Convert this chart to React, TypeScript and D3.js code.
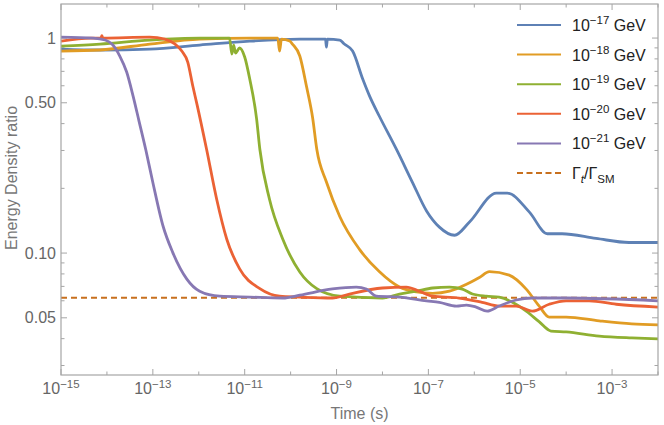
import * as d3 from "d3";

// log10(time / s), energy density ratio
const gev17: [number, number][] = [
  [-15, 0.889], [-14.15, 0.88], [-13.07, 0.889], [-11.98, 0.928], [-10.89, 0.968],
  [-9.8, 0.989], [-9.24, 0.989], [-9.22, 0.908], [-9.2, 0.989], [-8.93, 0.979],
  [-8.83, 0.938], [-8.65, 0.87], [-8.43, 0.645], [-8.28, 0.537], [-8.07, 0.434],
  [-7.7, 0.305], [-7.35, 0.214], [-7.04, 0.157], [-6.76, 0.132], [-6.43, 0.121],
  [-6.11, 0.139], [-5.52, 0.19], [-5.28, 0.19], [-4.8, 0.155], [-4.41, 0.123],
  [-4.09, 0.123], [-3.35, 0.117], [-2.63, 0.112], [-2.0, 0.112],
];
const gev18: [number, number][] = [
  [-15, 0.87], [-14.15, 0.88], [-13.07, 0.938], [-11.98, 0.989], [-10.89, 1.0],
  [-10.28, 1.0], [-10.24, 0.87], [-10.2, 0.989], [-10.02, 0.968], [-9.96, 0.938],
  [-9.8, 0.825], [-9.65, 0.59], [-9.52, 0.425], [-9.43, 0.304], [-9.22, 0.214],
  [-8.93, 0.148], [-8.5, 0.104], [-8.07, 0.082], [-7.63, 0.0695], [-7.26, 0.066],
  [-6.91, 0.065], [-6.54, 0.0665], [-6.17, 0.0716], [-5.89, 0.077], [-5.67, 0.082],
  [-5.24, 0.079], [-4.87, 0.068], [-4.59, 0.0568], [-4.37, 0.0504], [-4.0, 0.0504],
  [-3.28, 0.0484], [-2.57, 0.0469], [-2.0, 0.0464],
];
const gev19: [number, number][] = [
  [-15, 0.918], [-14.15, 0.938], [-13.07, 0.979], [-11.98, 1.0], [-11.33, 1.0],
  [-11.28, 0.843], [-11.24, 0.928], [-11.2, 0.852], [-11.11, 0.899], [-11.0, 0.816],
  [-10.89, 0.645], [-10.74, 0.42], [-10.67, 0.304], [-10.46, 0.178], [-10.17, 0.116],
  [-9.8, 0.0817], [-9.43, 0.0683], [-8.93, 0.063], [-8.0, 0.0618], [-7.63, 0.0645],
  [-7.26, 0.0665], [-6.91, 0.0688], [-6.54, 0.0695], [-6.26, 0.068], [-6.04, 0.0645],
  [-5.74, 0.063], [-5.46, 0.0624], [-5.17, 0.059], [-4.87, 0.0537], [-4.59, 0.048],
  [-4.33, 0.0434], [-4.0, 0.043], [-3.28, 0.0411], [-2.57, 0.0403], [-2.0, 0.0399],
];
const gev20: [number, number][] = [
  [-15, 0.968], [-14.35, 1.0], [-14.13, 1.0], [-14.11, 1.025], [-14.09, 1.0],
  [-13.07, 1.01], [-12.74, 0.989], [-12.52, 0.938], [-12.37, 0.87], [-12.24, 0.773],
  [-12.13, 0.598], [-12.04, 0.493], [-11.83, 0.304], [-11.61, 0.178], [-11.39, 0.116],
  [-11.11, 0.0844], [-10.67, 0.0683], [-10.24, 0.063], [-9.8, 0.0624], [-9.09, 0.0618],
  [-8.72, 0.0645], [-8.0, 0.0688], [-7.48, 0.0695], [-7.2, 0.0665], [-6.91, 0.063],
  [-6.33, 0.0618], [-5.83, 0.059], [-5.46, 0.0567], [-5.09, 0.0567], [-4.74, 0.0537],
  [-4.37, 0.0578], [-4.0, 0.06], [-3.5, 0.06], [-2.91, 0.0578], [-2.0, 0.0561],
];
const gev21: [number, number][] = [
  [-15, 1.01], [-14.3, 1.0], [-14.04, 0.979], [-13.89, 0.938], [-13.72, 0.825],
  [-13.57, 0.695], [-13.43, 0.537], [-13.3, 0.41], [-13.15, 0.3], [-13.0, 0.213],
  [-12.78, 0.134], [-12.57, 0.101], [-12.26, 0.0757], [-11.98, 0.0665], [-11.54, 0.063],
  [-10.89, 0.0624], [-10.17, 0.0618], [-9.8, 0.0637], [-9.09, 0.0681], [-8.57, 0.0695],
  [-8.35, 0.0681], [-8.13, 0.063], [-7.63, 0.0624], [-7.04, 0.06], [-6.76, 0.059],
  [-6.39, 0.0567], [-6.17, 0.0573], [-5.96, 0.0561], [-5.72, 0.0537], [-5.46, 0.0567],
  [-5.09, 0.0605], [-4.74, 0.0618], [-4.0, 0.0618], [-2.0, 0.06],
];
const widthRatio = 0.062; // Γt/ΓSM

const seriesExps = ["17", "18", "19", "20", "21"];
const seriesData = [gev17, gev18, gev19, gev20, gev21];
const colors = ["#5E81B5", "#E19C24", "#8FB032", "#EB6235", "#8778B3"];
const dashColor = "#C8701E";

const xMajorExps = [-15, -13, -11, -9, -7, -5, -3];
const xMinorExps = [-14, -12, -10, -8, -6, -4, -2];
const yMajor = [1, 0.5, 0.1, 0.05];
const yMajorLabels = ["1", "0.50", "0.10", "0.05"];
const yMinor = [0.9, 0.8, 0.7, 0.6, 0.4, 0.3, 0.2, 0.09, 0.08, 0.07, 0.06, 0.04, 0.03];

const W = 664;
const H = 425;
const margin = { top: 4, right: 6, bottom: 50, left: 61 };
const font = "'Liberation Sans', Arial, sans-serif";
const frame = "#a6a6a6";
const tickText = "#666";

export default function App() {
  const x = d3
    .scaleLog()
    .domain([1e-15, 1e-2])
    .range([margin.left, W - margin.right]);
  const y = d3
    .scaleLog()
    .domain([0.0271, 1.44])
    .range([H - margin.bottom, margin.top]);

  const line = d3
    .line<[number, number]>()
    .x((d) => x(Math.pow(10, d[0])))
    .y((d) => y(d[1]))
    .curve(d3.curveMonotoneX);

  const x0 = margin.left;
  const x1 = W - margin.right;
  const y0 = H - margin.bottom;
  const y1 = margin.top;

  return (
    <div style={{ position: "absolute", left: 0, top: 0 }}>
      <svg width={W} height={H} style={{ display: "block", background: "#fff" }} fontFamily={font}>
        <defs>
          <clipPath id="plot">
            <rect x={x0} y={y1} width={x1 - x0} height={y0 - y1} />
          </clipPath>
        </defs>

        {/* ticks, all four sides */}
        <g stroke={frame} strokeWidth={1}>
          {xMajorExps.map((e) => (
            <g key={"xM" + e}>
              <line x1={x(10 ** e)} x2={x(10 ** e)} y1={y0} y2={y0 - 6} />
              <line x1={x(10 ** e)} x2={x(10 ** e)} y1={y1} y2={y1 + 6} />
            </g>
          ))}
          {xMinorExps.map((e) => (
            <g key={"xm" + e}>
              <line x1={x(10 ** e)} x2={x(10 ** e)} y1={y0} y2={y0 - 3.5} />
              <line x1={x(10 ** e)} x2={x(10 ** e)} y1={y1} y2={y1 + 3.5} />
            </g>
          ))}
          {yMajor.map((v) => (
            <g key={"yM" + v}>
              <line x1={x0} x2={x0 + 6} y1={y(v)} y2={y(v)} />
              <line x1={x1} x2={x1 - 6} y1={y(v)} y2={y(v)} />
            </g>
          ))}
          {yMinor.map((v) => (
            <g key={"ym" + v}>
              <line x1={x0} x2={x0 + 3.5} y1={y(v)} y2={y(v)} />
              <line x1={x1} x2={x1 - 3.5} y1={y(v)} y2={y(v)} />
            </g>
          ))}
        </g>

        {/* data */}
        <g clipPath="url(#plot)">
          <line
            x1={x0}
            x2={x1}
            y1={y(widthRatio)}
            y2={y(widthRatio)}
            stroke={dashColor}
            strokeWidth={2}
            strokeDasharray="6,4"
          />
          {seriesData.map((d, i) => (
            <path
              key={i}
              d={line(d) ?? ""}
              fill="none"
              stroke={colors[i]}
              strokeWidth={2.8}
              strokeLinejoin="round"
            />
          ))}
        </g>

        {/* frame */}
        <rect x={x0} y={y1} width={x1 - x0} height={y0 - y1} fill="none" stroke={frame} strokeWidth={1.2} />

        {/* tick labels */}
        <g fill={tickText} fontSize={16}>
          {xMajorExps.map((e) => (
            <text key={"xl" + e} x={x(10 ** e)} y={y0 + 19} textAnchor="middle">
              10
              <tspan fontSize={11.5} dy={-6}>
                {"\u2212" + Math.abs(e)}
              </tspan>
            </text>
          ))}
          {yMajor.map((v, i) => (
            <text key={"yl" + v} x={x0 - 5} y={y(v) + 5.5} textAnchor="end">
              {yMajorLabels[i]}
            </text>
          ))}
        </g>

        {/* axis titles */}
        <text x={(x0 + x1) / 2} y={419} textAnchor="middle" fontSize={16} fill="#777">
          Time (s)
        </text>
        <text
          transform={`translate(17,178) rotate(-90)`}
          textAnchor="middle"
          fontSize={16}
          fill="#777"
        >
          Energy Density ratio
        </text>

        {/* legend */}
        <g fontSize={16} fill="#222">
          {seriesExps.map((e, i) => {
            const ly = 25 + i * 29.6;
            return (
              <g key={"lg" + e}>
                <line x1={517} x2={561} y1={ly} y2={ly} stroke={colors[i]} strokeWidth={2} />
                <text x={572} y={ly + 6}>
                  10
                  <tspan fontSize={11.5} dy={-7}>
                    {"\u2212" + e}
                  </tspan>
                  <tspan dy={7}>{" GeV"}</tspan>
                </text>
              </g>
            );
          })}
          <line
            x1={517}
            x2={561}
            y1={25 + 5 * 29.6}
            y2={25 + 5 * 29.6}
            stroke={dashColor}
            strokeWidth={2}
            strokeDasharray="6,3.5"
          />
          <text x={572} y={25 + 5 * 29.6 + 6}>
            Γ
            <tspan fontSize={11.5} dy={4} fontStyle="italic">
              t
            </tspan>
            <tspan dy={-4}>/Γ</tspan>
            <tspan fontSize={11.5} dy={4}>
              SM
            </tspan>
          </text>
        </g>
      </svg>
    </div>
  );
}
